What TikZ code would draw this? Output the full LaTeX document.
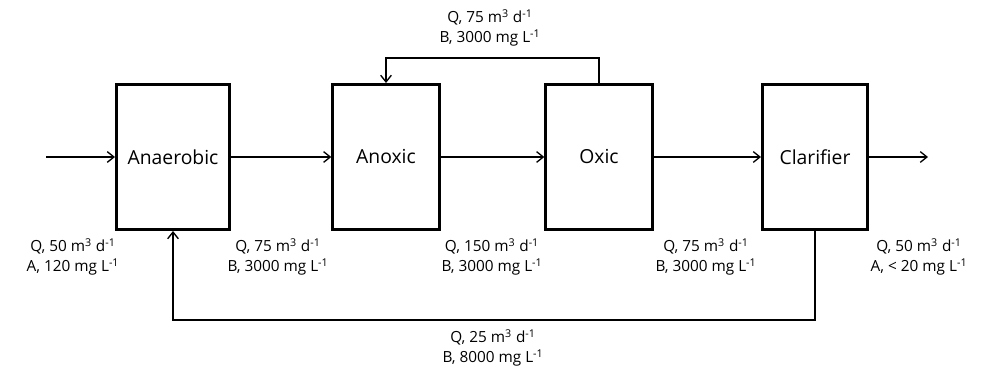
\documentclass[tikz,border=0pt]{standalone}
\usepackage{fontspec}
\setmainfont{Open Sans}
\usetikzlibrary{arrows.meta}
\newcommand{\cubm}{m\textsuperscript{3}}
\newcommand{\perd}{d\textsuperscript{-1}}
\newcommand{\perL}{L\textsuperscript{-1}}

\begin{document}
\begin{tikzpicture}[x=0.75pt,y=-0.75pt,
    tank/.style={draw,line width=2pt,minimum height=109pt,font=\fontsize{14.5}{17}\selectfont},
    flow/.style={line width=1pt,-{Straight Barb[length=5pt,width=8pt]}},
    lbl/.style={align=center,font=\fontsize{11.5}{15}\selectfont,inner sep=0pt}]
  \useasboundingbox (0,0) rectangle (987,370);
  \node[tank,minimum width=85pt] (anaerobic) at (173,157) {Anaerobic};
  \node[tank,minimum width=80pt] (anoxic) at (386,157) {Anoxic};
  \node[tank,minimum width=80pt] (oxic) at (599,157) {Oxic};
  \node[tank,minimum width=79pt] (clarifier) at (815,157) {Clarifier};
  \coordinate (in) at (46,157);
  \coordinate (out) at (928,157);
  \coordinate (top) at (490,58);
  \coordinate (bottom) at (490,320);

  \draw[flow] (in) -- (anaerobic);
  \draw[flow] (anaerobic) -- (anoxic);
  \draw[flow] (anoxic) -- (oxic);
  \draw[flow] (oxic) -- (clarifier);
  \draw[flow] (clarifier) -- (out);
  \draw[flow] (oxic.north) -- (oxic.north |- top) -| (anoxic.north);
  \draw[flow] (clarifier.south) -- (clarifier.south |- bottom) -| (anaerobic.south);

  \node[lbl] (qtop) at (490,28) {Q, 75 \cubm{} \perd\\B, 3000 mg \perL};
  \node[lbl] (qin) at (73,257) {Q, 50 \cubm{} \perd\\A, 120 mg \perL};
  \node[lbl] (q1) at (278,257) {Q, 75 \cubm{} \perd\\B, 3000 mg \perL};
  \node[lbl] (q2) at (492,257) {Q, 150 \cubm{} \perd\\B, 3000 mg \perL};
  \node[lbl] (q3) at (706,257) {Q, 75 \cubm{} \perd\\B, 3000 mg \perL};
  \node[lbl] (qout) at (919,257) {Q, 50 \cubm{} \perd\\A, < 20 mg \perL};
  \node[lbl] (qret) at (493,348) {Q, 25 \cubm{} \perd\\B, 8000 mg \perL};
\end{tikzpicture}
\end{document}
